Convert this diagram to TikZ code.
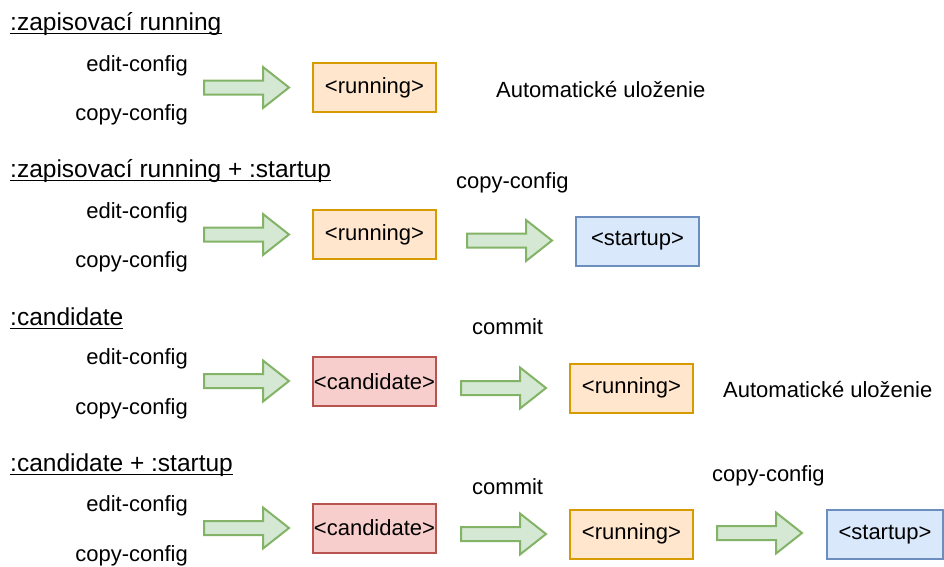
\documentclass[tikz,border=0pt]{standalone}
\usepackage{fontspec}
\setmainfont{Liberation Sans}
\definecolor{orfill}{HTML}{FFE6CC}
\definecolor{ordraw}{HTML}{D79B00}
\definecolor{rdfill}{HTML}{F8CECC}
\definecolor{rddraw}{HTML}{B85450}
\definecolor{blfill}{HTML}{DAE8FC}
\definecolor{bldraw}{HTML}{6C8EBF}
\definecolor{grfill}{HTML}{D5E8D4}
\definecolor{grdraw}{HTML}{82B366}
\tikzset{
  lbl/.style={inner sep=0pt, font=\fontsize{22}{25}\selectfont},
  ttl/.style={inner sep=0pt, anchor=base west, font=\fontsize{24.5}{28}\selectfont},
  box/.style={draw, line width=2pt, minimum width=123pt, minimum height=49pt, inner sep=0pt, font=\fontsize{22}{25}\selectfont},
  runbox/.style={box, fill=orfill, draw=ordraw},
  candbox/.style={box, fill=rdfill, draw=rddraw},
  startbox/.style={box, fill=blfill, draw=bldraw},
  fatarrow/.style={draw=grdraw, fill=grfill, line width=2pt, line join=miter},
  uline/.style={line width=1.4pt},
  pics/fat/.style={code={\draw[fatarrow] (0,-7)--(59,-7)--(59,-20.5)--(85,0)--(59,20.5)--(59,7)--(0,7)--cycle;}}
}
\begin{document}
\begin{tikzpicture}[x=1pt,y=-1pt]
\useasboundingbox (0,0) rectangle (944,566);
% Row 1
\node[ttl] (t1) at (10,30) {:zapisovací running};
\draw[uline] ([yshift=-3.5pt]t1.base west) -- ([yshift=-3.5pt]t1.base east);
\node[lbl, anchor=base east] (e1) at (188,71) {edit-config};
\node[lbl, anchor=base east] (c1) at (188,120) {copy-config};
\pic at (204,87.5) {fat};
\node[runbox] (r1) at (374.5,87.5) {<running>};
\node[lbl, anchor=base west] (a1) at (496,97) {Automatické uloženie};
% Row 2
\node[ttl] (t2) at (10,177) {:zapisovací running + :startup};
\draw[uline] ([yshift=-3.5pt]t2.base west) -- ([yshift=-3.5pt]t2.base east);
\node[lbl, anchor=base east] (e2) at (188,218) {edit-config};
\node[lbl, anchor=base east] (c2) at (188,267) {copy-config};
\pic at (204,234.5) {fat};
\node[runbox] (r2) at (374.5,234.5) {<running>};
\node[lbl, anchor=base west] (k2) at (456,188) {copy-config};
\pic at (467,240.5) {fat};
\node[startbox] (s2) at (637.5,241) {<startup>};
% Row 3
\node[ttl] (t3) at (10,325) {:candidate};
\draw[uline] ([yshift=-3.5pt]t3.base west) -- ([yshift=-3.5pt]t3.base east);
\node[lbl, anchor=base east] (e3) at (188,364) {edit-config};
\node[lbl, anchor=base east] (c3) at (188,414) {copy-config};
\pic at (204,381) {fat};
\node[candbox] (d3) at (374.5,381.5) {<candidate>};
\node[lbl, anchor=base west] (m3) at (472,334) {commit};
\pic at (461,388) {fat};
\node[runbox] (r3) at (631.5,388) {<running>};
\node[lbl, anchor=base west] (a3) at (723,397) {Automatické uloženie};
% Row 4
\node[ttl] (t4) at (10,471) {:candidate + :startup};
\draw[uline] ([yshift=-3.5pt]t4.base west) -- ([yshift=-3.5pt]t4.base east);
\node[lbl, anchor=base east] (e4) at (188,511) {edit-config};
\node[lbl, anchor=base east] (c4) at (188,561) {copy-config};
\pic at (204,528) {fat};
\node[candbox] (d4) at (374.5,528) {<candidate>};
\node[lbl, anchor=base west] (m4) at (472,494) {commit};
\pic at (461,534) {fat};
\node[runbox] (r4) at (631.5,534) {<running>};
\node[lbl, anchor=base west] (k4) at (712,481) {copy-config};
\pic at (717,533) {fat};
\node[startbox, minimum width=116pt] (s4) at (885,534.5) {<startup>};
\end{tikzpicture}
\end{document}
